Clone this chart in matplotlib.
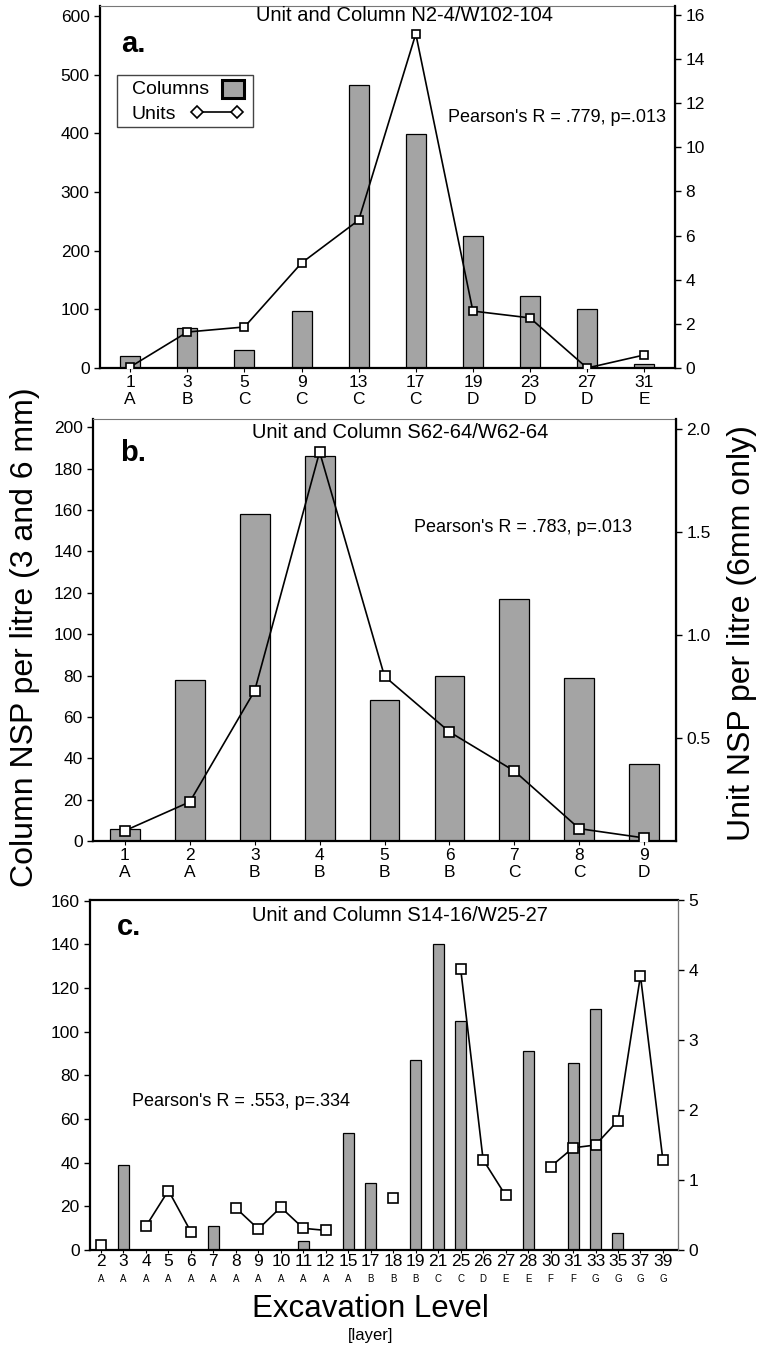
import numpy as np
import matplotlib
matplotlib.use('Agg')
import matplotlib.pyplot as plt
from matplotlib.lines import Line2D
from matplotlib.patches import Rectangle

plt.rcParams['font.family'] = ['Liberation Sans', 'DejaVu Sans']

# panel a: N2-4/W102-104
levels_a = ['1', '3', '5', '9', '13', '17', '19', '23', '27', '31']
layers_a = ['A', 'B', 'C', 'C', 'C', 'C', 'D', 'D', 'D', 'E']
columns_a = [20, 68, 31, 97, 482, 399, 225, 123, 100, 7]
units_a = [0.05, 1.63, 1.86, 4.76, 6.7, 15.14, 2.58, 2.27, 0.0, 0.59]

# panel b: S62-64/W62-64
levels_b = ['1', '2', '3', '4', '5', '6', '7', '8', '9']
layers_b = ['A', 'A', 'B', 'B', 'B', 'B', 'C', 'C', 'D']
columns_b = [6, 78, 158, 186, 68, 80, 117, 79, 37]
units_b = [0.05, 0.19, 0.73, 1.89, 0.80, 0.53, 0.34, 0.06, 0.015]

# panel c: S14-16/W25-27 (nan = no unit sample)
nan = np.nan
levels_c = ['2', '3', '4', '5', '6', '7', '8', '9', '10', '11', '12', '15', '17',
            '18', '19', '21', '25', '26', '27', '28', '30', '31', '33', '35', '37', '39']
layers_c = ['A'] * 12 + ['B', 'B', 'B', 'C', 'C', 'D', 'E', 'E', 'F', 'F', 'G', 'G', 'G', 'G']
columns_c = [0, 39, 0, 0, 0, 11, 0, 0, 0, 4, 0, 53.5, 30.5,
             0, 87, 140, 105, 0, 0, 91, 0, 85.5, 110.5, 8, 0, 0]
units_c = [0.07, nan, 0.34, 0.85, 0.26, nan, 0.60, 0.30, 0.61, 0.31, 0.28, nan, nan,
           0.75, nan, nan, 4.02, 1.29, 0.78, nan, 1.19, 1.46, 1.50, 1.85, 3.92, 1.28]

BAR = '#a4a4a4'
TICK = 12.5


def panel(rect, levels, layers, cols, units, ylim, y2lim, xlim, width, ms,
          yticks, y2ticks, title, title_xy, label, label_xy, pearson, pearson_xy,
          top_dark=False, right_dark=True, small_layers=False):
    ax = fig.add_axes(rect)
    x = np.arange(len(levels))
    ax.bar(x, cols, width=width, color=BAR, edgecolor='black', lw=0.9, zorder=2)
    ax.set_xlim(*xlim)
    ax.set_ylim(*ylim)
    ax.set_yticks(yticks)
    ax.tick_params(axis='y', labelsize=TICK, length=4, width=1, direction='out')
    ax.set_xticks(x)
    if small_layers:
        ax.set_xticklabels(levels, fontsize=12.5)
        for i, l in enumerate(layers):
            ax.annotate(l, xy=(i, 0), xycoords=('data', 'axes fraction'), xytext=(0, -17),
                        textcoords='offset points', ha='center', va='top', fontsize=7)
        ax.tick_params(axis='x', length=2, pad=1)
    else:
        ax.set_xticklabels([a + '\n' + b for a, b in zip(levels, layers)], fontsize=TICK,
                           linespacing=1.15)
        ax.tick_params(axis='x', length=3, pad=2)
    for s in ['left', 'bottom']:
        ax.spines[s].set_linewidth(1.6)
    ax.spines['top'].set_linewidth(1.6 if top_dark else 0.8)
    ax.spines['top'].set_color('black' if top_dark else '#777777')

    ax2 = ax.twinx()
    ax2.plot(x, units, color='black', lw=1.2, marker='s', ms=ms, mfc='white',
             mec='black', mew=1.2, zorder=3)
    ax2.set_ylim(*y2lim)
    ax2.set_yticks(y2ticks)
    ax2.tick_params(axis='y', labelsize=TICK, length=4, width=1, direction='out')
    ax2.spines['right'].set_linewidth(1.6 if right_dark else 0.8)
    ax2.spines['right'].set_color('black' if right_dark else '#777777')
    ax2.spines['top'].set_visible(False)
    ax2.spines['left'].set_visible(False)
    ax2.spines['bottom'].set_visible(False)

    ax.text(title_xy[0], title_xy[1], title, transform=ax.transAxes, ha='center',
            va='center', fontsize=14.5)
    ax.text(label_xy[0], label_xy[1], label, transform=ax.transAxes, ha='left',
            va='baseline', fontsize=21, fontweight='bold')
    ax.text(pearson_xy[0], pearson_xy[1], pearson, transform=ax.transAxes, ha='center',
            va='center', fontsize=13)
    return ax, ax2


fig = plt.figure(figsize=(7.6, 13.48), dpi=100)

ax_a, ax_a2 = panel([0.1316, 0.7270, 0.7566, 0.2685], levels_a, layers_a, columns_a, units_a,
                    (0, 617), (0, 16.4), (-0.53, 9.54), 0.35, 6,
                    np.arange(0, 601, 100), np.arange(0, 17, 2),
                    'Unit and Column N2-4/W102-104', (0.529, 0.975),
                    'a.', (0.036, 0.873),
                    "Pearson's R = .779, p=.013", (0.795, 0.691))

# legend box drawn by hand: labels on the left, keys on the right
tr = ax_a2.transAxes
ax_a2.add_patch(Rectangle((0.03, 0.667), 0.236, 0.143, transform=tr, facecolor='white',
                          edgecolor='#444444', lw=1, zorder=5))
ax_a2.text(0.055, 0.770, 'Columns', transform=tr, fontsize=14, va='center', zorder=6)
ax_a2.text(0.055, 0.700, 'Units', transform=tr, fontsize=14, va='center', zorder=6)
ax_a2.add_patch(Rectangle((0.213, 0.745), 0.038, 0.052, transform=tr, facecolor=BAR,
                          edgecolor='black', lw=2.2, zorder=6))
ax_a2.add_line(Line2D([0.168, 0.239], [0.706, 0.706], transform=tr, color='black', lw=1.2,
                      marker='D', ms=6.5, mfc='white', mec='black', mew=1.2, zorder=6))

panel([0.1224, 0.3761, 0.7671, 0.3131], levels_b, layers_b, columns_b, units_b,
      (0, 204), (0, 2.05), (-0.49, 8.49), 0.46, 7.5,
      np.arange(0, 201, 20), [0.5, 1.0, 1.5, 2.0],
      'Unit and Column S62-64/W62-64', (0.527, 0.969),
      'b.', (0.046, 0.900),
      "Pearson's R = .783, p=.013", (0.738, 0.744))

panel([0.1184, 0.0727, 0.7737, 0.2596], levels_c, layers_c, columns_c, units_c,
      (0, 160.3), (0, 5.0), (-0.49, 25.67), 0.49, 7,
      np.arange(0, 161, 20), np.arange(0, 6, 1),
      'Unit and Column S14-16/W25-27', (0.527, 0.957),
      'c.', (0.046, 0.900),
      "Pearson's R = .553, p=.334", (0.257, 0.423),
      top_dark=True, right_dark=False, small_layers=True)

fig.text(0.033, 0.527, 'Column NSP per litre (3 and 6 mm)', rotation=90, ha='center',
         va='center', fontsize=23)
fig.text(0.976, 0.530, 'Unit NSP per litre (6mm only)', rotation=90, ha='center',
         va='center', fontsize=23)
fig.text(0.487, 0.023, 'Excavation Level', ha='center', va='baseline', fontsize=22.5)
fig.text(0.487, 0.006, '[layer]', ha='center', va='baseline', fontsize=12)

fig.savefig('out.png', dpi=100)
